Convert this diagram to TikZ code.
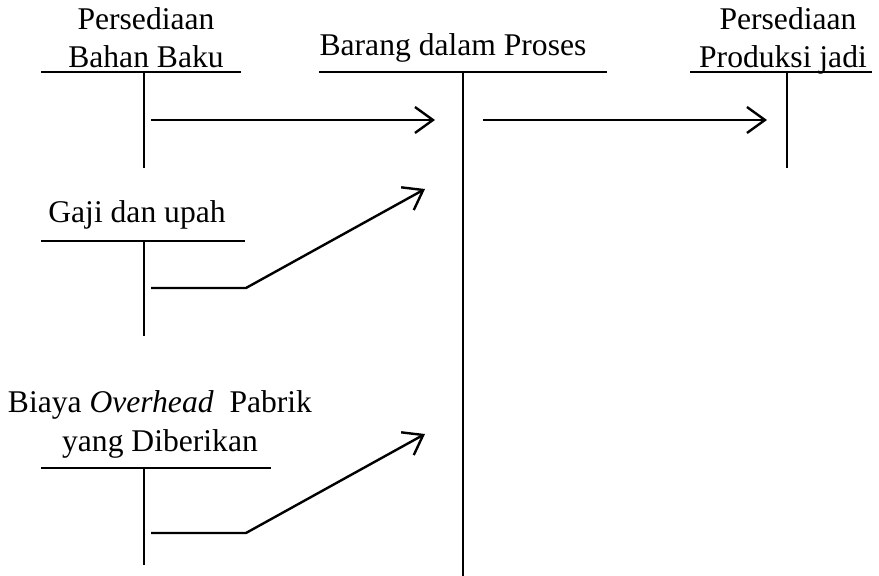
\documentclass[tikz,border=0pt]{standalone}
\usepackage{fontspec}
\setmainfont{Liberation Serif}
\usetikzlibrary{arrows.meta}
\begin{document}
\begin{tikzpicture}[x=0.5pt,y=-0.5pt,
  lbl/.style={anchor=base,inner sep=0pt,font=\fontsize{15.8}{19}\selectfont},
  bar/.style={line width=1.3pt},
  flow/.style={line width=1.2pt,-{Straight Barb[length=9pt,width=13pt,line width=1.2pt]}}]
\useasboundingbox (0,0) rectangle (879,576);

% T-account: Persediaan Bahan Baku
\node[lbl] (bb1) at (146,30) {Persediaan};
\node[lbl] (bb2) at (146,68) {Bahan Baku};
\coordinate (bbL) at (41,72); \coordinate (bbR) at (241,72);
\coordinate (bbT) at (144,72); \coordinate (bbB) at (144,168);
\draw[bar] (bbL) -- (bbR);
\draw[bar] (bbT) -- (bbB);

% T-account: Barang dalam Proses
\node[lbl] (bdp) at (453,56) {Barang dalam Proses};
\coordinate (bdpL) at (319,72); \coordinate (bdpR) at (607,72);
\coordinate (bdpT) at (463,72); \coordinate (bdpB) at (463,576);
\draw[bar] (bdpL) -- (bdpR);
\draw[bar] (bdpT) -- (bdpB);

% T-account: Persediaan Produksi jadi
\node[lbl] (pj1) at (788,30) {Persediaan};
\node[lbl] (pj2) at (783,68) {Produksi jadi};
\coordinate (pjL) at (690,72); \coordinate (pjR) at (872,72);
\coordinate (pjT) at (787,72); \coordinate (pjB) at (787,168);
\draw[bar] (pjL) -- (pjR);
\draw[bar] (pjT) -- (pjB);

% T-account: Gaji dan upah
\node[lbl] (gu) at (137,223) {Gaji dan upah};
\coordinate (guL) at (41,241); \coordinate (guR) at (245,241);
\coordinate (guT) at (144,241); \coordinate (guB) at (144,336);
\draw[bar] (guL) -- (guR);
\draw[bar] (guT) -- (guB);

% T-account: Biaya Overhead Pabrik yang Diberikan
\node[lbl] (bo1) at (160,413) {Biaya \textit{Overhead}\ \ Pabrik};
\node[lbl] (bo2) at (160,452) {yang Diberikan};
\coordinate (boL) at (41,468); \coordinate (boR) at (271,468);
\coordinate (boT) at (144,468); \coordinate (boB) at (144,565);
\draw[bar] (boL) -- (boR);
\draw[bar] (boT) -- (boB);

% flows between accounts
\coordinate (f1s) at (151,120); \coordinate (f1e) at (435,120);
\draw[flow] (f1s) -- (f1e);
\coordinate (f2s) at (483,120); \coordinate (f2e) at (767,120);
\draw[flow] (f2s) -- (f2e);
\coordinate (f3s) at (151,288); \coordinate (f3k) at (246,288); \coordinate (f3e) at (425,189);
\draw[flow] (f3s) -- (f3k) -- (f3e);
\coordinate (f4s) at (151,533); \coordinate (f4k) at (246,533); \coordinate (f4e) at (425,434);
\draw[flow] (f4s) -- (f4k) -- (f4e);
\end{tikzpicture}
\end{document}
